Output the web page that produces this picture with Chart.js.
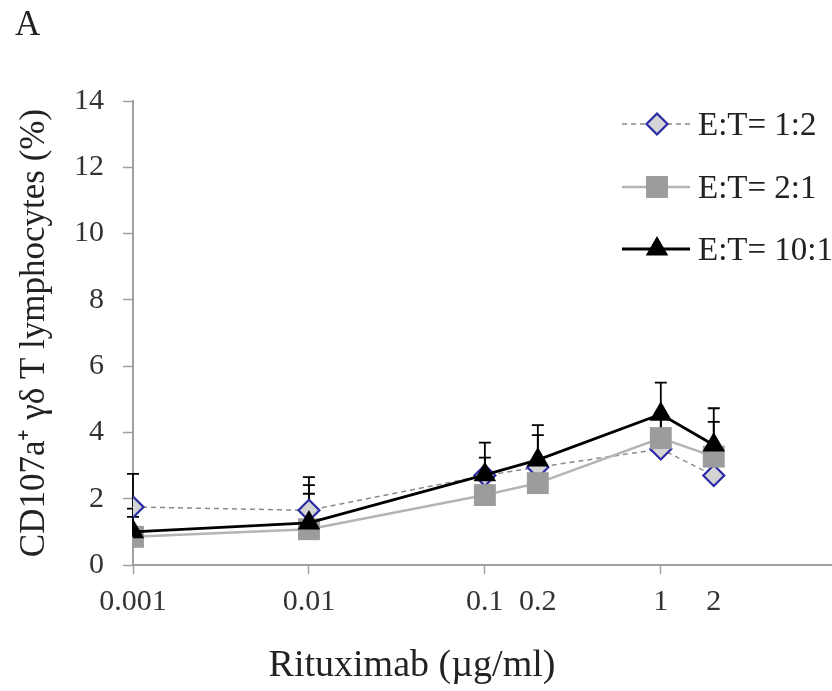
<!DOCTYPE html>
<html>
<head>
<meta charset="utf-8">
<script src="https://cdn.jsdelivr.net/npm/chart.js@4/dist/chart.umd.min.js"></script>
<style>
  html, body { margin: 0; padding: 0; background: #fff; }
  #wrap { width: 832px; height: 691px; position: relative; }
</style>
</head>
<body>
<div id="wrap"><canvas id="chart" width="832" height="691"></canvas></div>
<script>
// Rituximab doses (µg/ml), log axis
const doses = [0.001, 0.01, 0.1, 0.2, 1, 2];
const doseLabels = ['0.001', '0.01', '0.1', '0.2', '1', '2'];
const yTicks = [0, 2, 4, 6, 8, 10, 12, 14];

const seriesNames = ['E:T= 1:2', 'E:T= 2:1', 'E:T= 10:1'];
const ratio1to2 = [1.75, 1.65, 2.70, 2.95, 3.50, 2.70];
const ratio2to1 = [0.85, 1.08, 2.11, 2.47, 3.83, 3.27];
const ratio10to1 = [1.00, 1.27, 2.72, 3.17, 4.55, 3.62];
// upper error (SD)
const err1to2 = [1.00, 1.00, 0.54, 0.97, 0.90, 0.80];
const err2to1 = [0.60, 1.07, 0.60, 0.63, 0.77, 1.05];
const err10to1 = [0.70, 1.14, 0.97, 1.05, 0.95, 1.11];

const SERIF = "'Liberation Serif', 'Times New Roman', Times, serif";

function pts(ys) {
    return doses.map((d, i) => ({ x: d, y: ys[i] }));
}

const errorBars = {
    id: 'errorBars',
    beforeDatasetsDraw(chart) {
        const ctx = chart.ctx;
        const yScale = chart.scales.y;
        ctx.save();
        ctx.strokeStyle = '#000';
        ctx.lineWidth = 1.8;
        chart.data.datasets.forEach((ds, i) => {
            const meta = chart.getDatasetMeta(i);
            meta.data.forEach((p, j) => {
                const top = yScale.getPixelForValue(ds.data[j].y + ds.errUp[j]);
                ctx.beginPath();
                ctx.moveTo(p.x, p.y);
                ctx.lineTo(p.x, top);
                ctx.moveTo(p.x - 6, top);
                ctx.lineTo(p.x + 6, top);
                ctx.stroke();
            });
        });
        ctx.restore();
    }
};

function marker(ctx, style, x, y, ds) {
    ctx.beginPath();
    if (style === 'rectRot') {
        const r = ds.pointRadius;
        ctx.moveTo(x, y - r); ctx.lineTo(x + r, y); ctx.lineTo(x, y + r); ctx.lineTo(x - r, y);
    } else if (style === 'rect') {
        const h = ds.pointRadius * Math.SQRT1_2;
        ctx.rect(x - h, y - h, 2 * h, 2 * h);
    } else {
        const r = ds.pointRadius;
        const s = Math.sin(Math.PI / 3) * r;
        ctx.moveTo(x, y - r); ctx.lineTo(x + s, y + r / 2); ctx.lineTo(x - s, y + r / 2);
    }
    ctx.closePath();
    ctx.fillStyle = ds.pointBackgroundColor;
    ctx.fill();
    if (ds.pointBorderWidth) {
        ctx.lineWidth = ds.pointBorderWidth;
        ctx.strokeStyle = ds.pointBorderColor;
        ctx.stroke();
    }
}

const extras = {
    id: 'extras',
    afterDraw(chart) {
        const ctx = chart.ctx;
        ctx.save();
        // panel letter
        ctx.fillStyle = '#222';
        ctx.font = '35px ' + SERIF;
        ctx.textBaseline = 'alphabetic';
        ctx.textAlign = 'left';
        ctx.fillText('A', 15, 35);
        // x axis title
        ctx.font = '38px ' + SERIF;
        ctx.textAlign = 'center';
        ctx.fillText('Rituximab (\u00b5g/ml)', 412, 676);
        // legend
        const rows = [124, 187, 249];
        chart.data.datasets.forEach((ds, i) => {
            const y = rows[i];
            ctx.beginPath();
            ctx.setLineDash(ds.borderDash || []);
            ctx.strokeStyle = ds.borderColor;
            ctx.lineWidth = ds.borderWidth;
            ctx.moveTo(622, y);
            ctx.lineTo(690, y);
            ctx.stroke();
            ctx.setLineDash([]);
            marker(ctx, ds.pointStyle, 657, y, ds);
            ctx.fillStyle = '#222';
            ctx.font = '33px ' + SERIF;
            ctx.textAlign = 'left';
            ctx.textBaseline = 'middle';
            ctx.fillText(seriesNames[i], 698, y + 2);
        });
        ctx.restore();
    }
};

new Chart(document.getElementById('chart'), {
    type: 'line',
    data: {
        datasets: [
            {
                label: seriesNames[0],
                data: pts(ratio1to2),
                errUp: err1to2,
                borderColor: '#8a8a8a',
                borderWidth: 1.5,
                borderDash: [5, 4],
                pointStyle: 'rectRot',
                pointRadius: 10.5,
                pointBackgroundColor: '#d4d4d4',
                pointBorderColor: '#2a2aa6',
                pointBorderWidth: 2.2,
                order: 3
            },
            {
                label: seriesNames[1],
                data: pts(ratio2to1),
                errUp: err2to1,
                borderColor: '#b4b4b4',
                borderWidth: 2.5,
                pointStyle: 'rect',
                pointRadius: 15.5,
                pointBackgroundColor: '#9c9c9c',
                pointBorderColor: '#9c9c9c',
                pointBorderWidth: 0,
                order: 2
            },
            {
                label: seriesNames[2],
                data: pts(ratio10to1),
                errUp: err10to1,
                borderColor: '#000',
                borderWidth: 2.8,
                pointStyle: 'triangle',
                pointRadius: 13,
                pointBackgroundColor: '#000',
                pointBorderColor: '#000',
                pointBorderWidth: 0,
                order: 1
            }
        ]
    },
    options: {
        responsive: false,
        animation: false,
        layout: { autoPadding: false, padding: { top: 101, right: 0, left: 0, bottom: 0 } },
        plugins: {
            legend: { display: false },
            tooltip: { enabled: false }
        },
        elements: { line: { tension: 0 } },
        scales: {
            x: {
                type: 'logarithmic',
                min: 0.001,
                max: 9.4,
                afterBuildTicks: (scale) => {
                    scale.ticks = doses.map(v => ({ value: v }));
                },
                afterFit: (scale) => { scale.height = 126; },
                ticks: {
                    autoSkip: false,
                    maxRotation: 0,
                    padding: 10,
                    color: '#333',
                    font: { family: SERIF, size: 30 },
                    callback: (v) => {
                        const i = doses.indexOf(v);
                        return i >= 0 ? doseLabels[i] : '';
                    }
                },
                grid: {
                    drawOnChartArea: false,
                    tickLength: 9,
                    tickWidth: 1.5,
                    tickColor: (c) => (c.tick && (c.tick.value === 0.2 || c.tick.value === 2)) ? 'rgba(0,0,0,0)' : '#a0a0a0'
                },
                border: { color: '#a0a0a0', width: 2 }
            },
            y: {
                min: 0,
                max: 14,
                afterBuildTicks: (scale) => {
                    scale.ticks = yTicks.map(v => ({ value: v }));
                },
                afterFit: (scale) => { scale.width = 133; },
                ticks: {
                    padding: 19,
                    color: '#333',
                    font: { family: SERIF, size: 30 }
                },
                grid: {
                    drawOnChartArea: false,
                    tickLength: 10,
                    tickWidth: 1.5,
                    tickColor: '#a0a0a0'
                },
                border: { color: '#a0a0a0', width: 2 },
                title: {
                    display: true,
                    text: 'CD107a\u207a \u03b3\u03b4 T lymphocytes (%)',
                    color: '#222',
                    font: { family: SERIF, size: 35 },
                    padding: { top: 14, bottom: 0 }
                }
            }
        }
    },
    plugins: [errorBars, extras]
});
</script>
</body>
</html>
